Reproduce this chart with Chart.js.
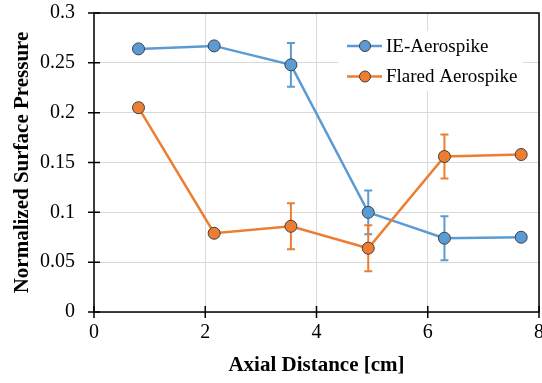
<!DOCTYPE html>
<html>
<head>
<meta charset="utf-8">
<script src="https://cdn.jsdelivr.net/npm/chart.js@4.4.0/dist/chart.umd.min.js"></script>
<style>
  html, body { margin: 0; padding: 0; background: #fff; overflow: hidden; }
</style>
</head>
<body>
<canvas id="mycanvas" width="542" height="383"></canvas>
<script>
// values
var axialDist   = [0.8, 2.16, 3.54, 4.93, 6.3, 7.68];
var ieAero      = [0.264, 0.267, 0.248, 0.100, 0.074, 0.075];
var ieErr       = [0, 0, 0.022, 0.022, 0.022, 0];
var flaredAero  = [0.205, 0.079, 0.086, 0.064, 0.156, 0.158];
var flaredErr   = [0, 0, 0.023, 0.023, 0.022, 0];
var seriesNames = ["IE-Aerospike", "Flared Aerospike"];
var xTicks = [0, 2, 4, 6, 8];
var yTicks = [0, 0.05, 0.1, 0.15, 0.2, 0.25, 0.3];

var BLUE = "#5b9bd5";
var ORANGE = "#ed7d31";
var FONT = "'Liberation Serif', 'Times New Roman', serif";

function pts(ys) {
  var out = [];
  for (var i in ys) out.push({x: axialDist[i], y: ys[i]});
  return out;
}

// error bars, drawn under the markers
var errorBars = {
  id: "errorBars",
  beforeDatasetsDraw: function(chart) {
    var ctx = chart.ctx;
    var xs = chart.scales.x, ys = chart.scales.y;
    chart.data.datasets.forEach(function(ds) {
      ctx.save();
      ctx.strokeStyle = ds.borderColor;
      ctx.lineWidth = 2;
      for (var i = 0; i < ds.data.length; i++) {
        var e = ds.errors[i];
        if (!e) continue;
        var px = xs.getPixelForValue(ds.data[i].x);
        var top = ys.getPixelForValue(ds.data[i].y + e);
        var bot = ys.getPixelForValue(ds.data[i].y - e);
        ctx.beginPath();
        ctx.moveTo(px, top); ctx.lineTo(px, bot);
        ctx.moveTo(px - 4, top); ctx.lineTo(px + 4, top);
        ctx.moveTo(px - 4, bot); ctx.lineTo(px + 4, bot);
        ctx.stroke();
      }
      ctx.restore();
    });
  }
};

// black frame with ticks crossing the axes
var frame = {
  id: "frame",
  afterDatasetsDraw: function(chart) {
    var ctx = chart.ctx, a = chart.chartArea;
    var xs = chart.scales.x, ys = chart.scales.y;
    ctx.save();
    ctx.strokeStyle = "#000";
    ctx.lineWidth = 1.5;
    ctx.strokeRect(a.left, a.top, a.right - a.left, a.bottom - a.top);
    ctx.beginPath();
    yTicks.forEach(function(v) {
      var py = ys.getPixelForValue(v);
      ctx.moveTo(a.left - 6, py); ctx.lineTo(a.left + 6, py);
    });
    xTicks.forEach(function(v) {
      var px = xs.getPixelForValue(v);
      ctx.moveTo(px, a.bottom - 6); ctx.lineTo(px, a.bottom + 6);
    });
    ctx.stroke();
    ctx.restore();
  }
};

// legend inside the plot, line + marker symbol
var insideLegend = {
  id: "insideLegend",
  afterDraw: function(chart) {
    var ctx = chart.ctx, a = chart.chartArea;
    var bx = a.right - 201, by = a.top + 18;
    ctx.save();
    ctx.fillStyle = "#fff";
    ctx.fillRect(bx, by, 185, 60);
    ctx.font = "19px " + FONT;
    ctx.textBaseline = "middle";
    chart.data.datasets.forEach(function(ds, i) {
      var y = by + 15 + i * 30.5;
      var x0 = bx + 9;
      ctx.strokeStyle = ds.borderColor;
      ctx.lineWidth = 2.5;
      ctx.beginPath();
      ctx.moveTo(x0, y); ctx.lineTo(x0 + 35, y);
      ctx.stroke();
      ctx.beginPath();
      ctx.arc(x0 + 18, y, 5.5, 0, Math.PI * 2);
      ctx.fillStyle = ds.backgroundColor;
      ctx.fill();
      ctx.lineWidth = 1;
      ctx.strokeStyle = "#404040";
      ctx.stroke();
      ctx.fillStyle = "#000";
      ctx.fillText(ds.label, x0 + 39, y + 1);
    });
    ctx.restore();
  }
};

var chartdata = {
  datasets: [
    {
      label: seriesNames[0],
      data: pts(ieAero),
      errors: ieErr,
      showLine: true,
      borderColor: BLUE,
      backgroundColor: BLUE,
      borderWidth: 2.5,
      pointRadius: 6,
      pointBorderWidth: 1,
      pointBorderColor: "#404040",
      pointBackgroundColor: BLUE,
      order: 1
    },
    {
      label: seriesNames[1],
      data: pts(flaredAero),
      errors: flaredErr,
      showLine: true,
      borderColor: ORANGE,
      backgroundColor: ORANGE,
      borderWidth: 2.5,
      pointRadius: 6,
      pointBorderWidth: 1,
      pointBorderColor: "#404040",
      pointBackgroundColor: ORANGE,
      order: 0
    }
  ]
};

var ctx = document.getElementById("mycanvas");

var graph = new Chart(ctx, {
  type: "scatter",
  data: chartdata,
  plugins: [errorBars, frame, insideLegend],
  options: {
    responsive: false,
    animation: false,
    layout: { autoPadding: false, padding: { top: 13, right: 3, left: 0, bottom: 0 } },
    plugins: {
      legend: { display: false },
      tooltip: { enabled: false }
    },
    scales: {
      x: {
        type: "linear",
        min: 0, max: 8,
        afterBuildTicks: function(s) { s.ticks = xTicks.map(function(v) { return {value: v}; }); },
        // let the "8" run off the right edge like the original
        afterFit: function(s) { s.height = 71; s.paddingLeft = 0; s.paddingRight = 0; },
        grid: { color: "#d9d9d9", lineWidth: 1, drawTicks: false },
        border: { display: false },
        ticks: {
          padding: 9,
          color: "#000",
          font: { family: FONT, size: 20 }
        },
        title: {
          display: true,
          text: "Axial Distance [cm]",
          color: "#000",
          font: { family: FONT, size: 21, weight: "bold" },
          padding: { top: 0, bottom: 5 }
        }
      },
      y: {
        type: "linear",
        min: 0, max: 0.3,
        afterBuildTicks: function(s) { s.ticks = yTicks.map(function(v) { return {value: v}; }); },
        afterFit: function(s) { s.width = 94; s.paddingTop = 0; s.paddingBottom = 0; },
        grid: { color: "#d9d9d9", lineWidth: 1, drawTicks: false },
        border: { display: false },
        ticks: {
          padding: 19,
          color: "#000",
          font: { family: FONT, size: 20 },
          callback: function(v) { return String(Number(v.toFixed(2))); }
        },
        title: {
          display: true,
          text: "Normalized Surface Pressure",
          color: "#000",
          font: { family: FONT, size: 21, weight: "bold" },
          padding: { top: 10, bottom: 0 }
        }
      }
    }
  }
});
</script>
</body>
</html>
